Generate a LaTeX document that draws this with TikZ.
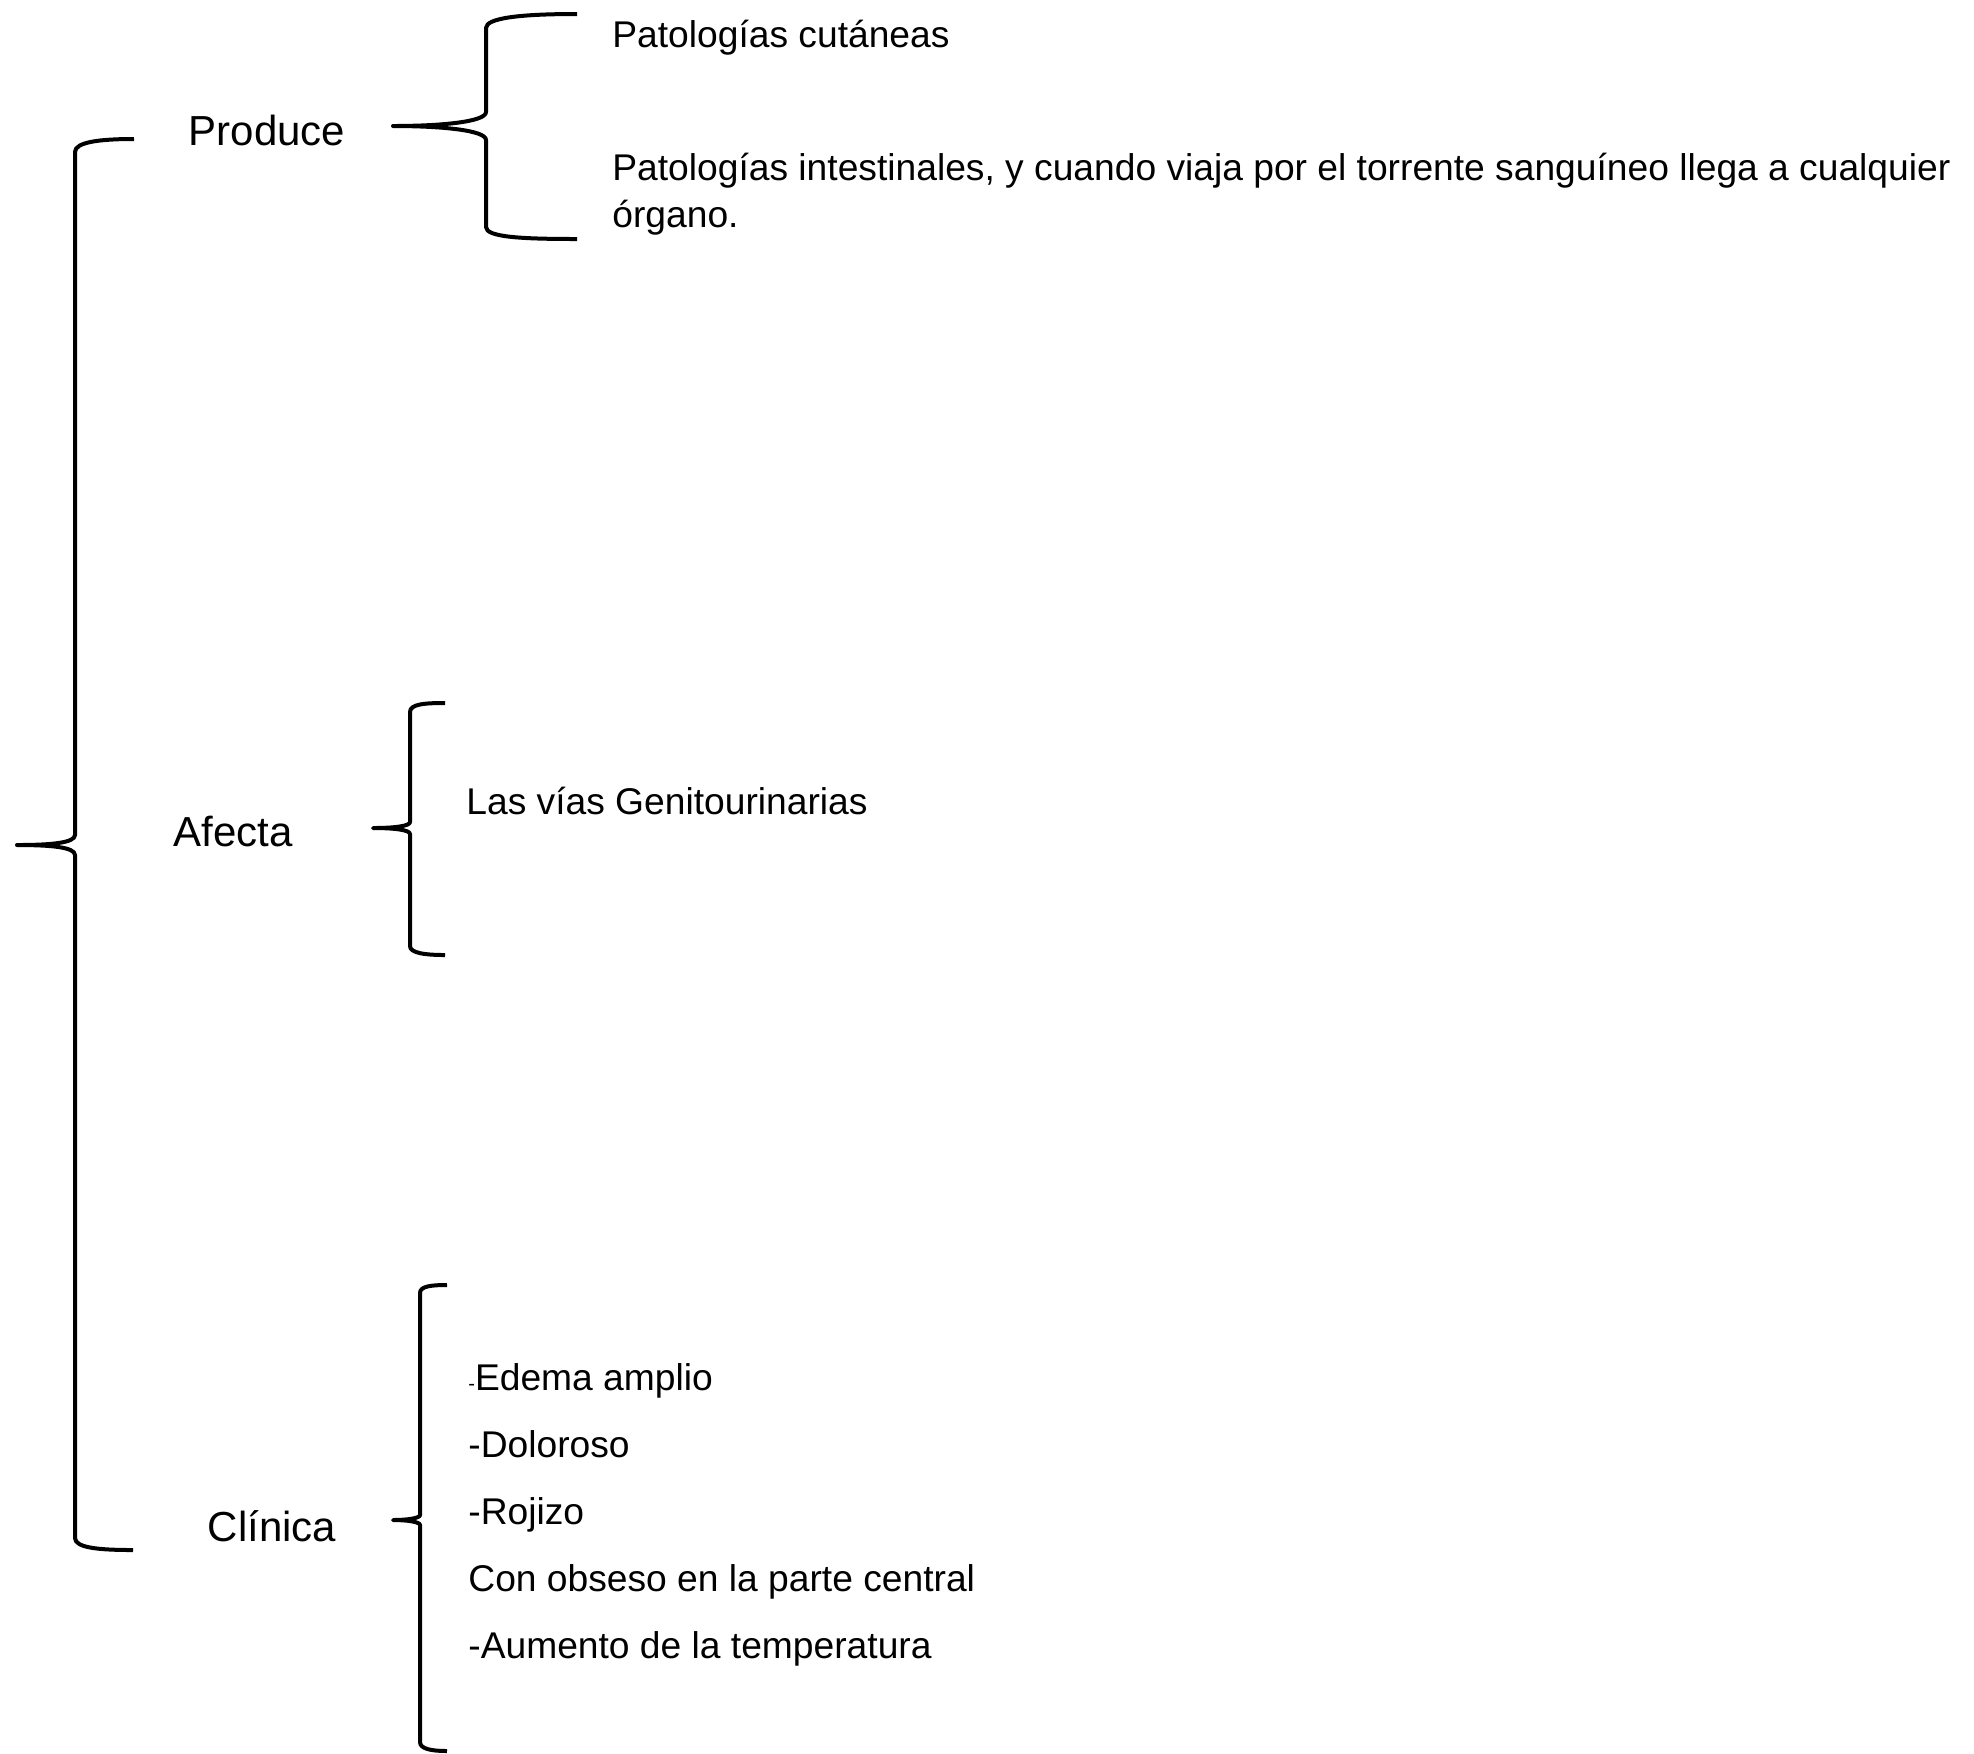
\documentclass[tikz,border=0pt]{standalone}
\usepackage{fontspec}
\setmainfont{Liberation Sans}

\begin{document}
\begin{tikzpicture}[x=0.5pt, y=-0.5pt]
  \tikzset{
    titulo/.style={inner sep=0pt,font=\fontsize{21}{25}\selectfont},
    item/.style={inner sep=0pt,anchor=base west,align=left,font=\fontsize{18.6}{23.5}\selectfont},
    llave/.style={draw=black,line width=2pt,line join=round}
  }
  \useasboundingbox (0,0) rectangle (1974,1753);
  % encabezados
  \node[titulo] (produce) at (267,130) {Produce};
  \node[titulo] (afecta) at (233,831) {Afecta};
  \node[titulo] (clinica) at (272,1526) {Clínica};
  % textos
  \node[item] (cutaneas) at (612,47) {Patologías cutáneas};
  \node[item,anchor=west] (intestinales) at (612,194) {Patologías intestinales, y cuando viaja por el torrente sanguíneo llega a cualquier\\órgano.};
  \node[item] (vias) at (466,814) {Las vías Genitourinarias};
  \node[item] (edema) at (468,1390) {{\fontsize{10}{12}\selectfont -}Edema amplio};
  \node[item] (doloroso) at (468,1457) {-Doloroso};
  \node[item] (rojizo) at (468,1524) {-Rojizo};
  \node[item] (obseso) at (468,1591) {Con obseso en la parte central};
  \node[item] (temperatura) at (468,1658) {-Aumento de la temperatura};
  % llaves
  \draw[llave] (134,139) .. controls (100,139) and (75,142) .. (75,152) -- (75,835)
    .. controls (75,843) and (50,845) .. (17,845)
    .. controls (50,845) and (75,847) .. (75,855) -- (75,1538)
    .. controls (75,1548) and (100,1550) .. (133,1550);
  \draw[llave] (577,14) .. controls (520,14) and (486,18) .. (486,28) -- (486,112)
    .. controls (486,122) and (440,126) .. (393,126)
    .. controls (440,126) and (486,130) .. (486,140) -- (486,227)
    .. controls (486,237) and (520,239) .. (577,239);
  \draw[llave] (445,703) .. controls (425,703) and (410,704) .. (410,712) -- (410,822)
    .. controls (410,826) and (395,828) .. (373,828)
    .. controls (395,828) and (410,830) .. (410,834) -- (410,946)
    .. controls (410,953) and (425,955) .. (445,955);
  \draw[llave] (447,1285) .. controls (432,1285) and (420,1286) .. (420,1293) -- (420,1515)
    .. controls (420,1518) and (408,1520) .. (393,1520)
    .. controls (408,1520) and (420,1522) .. (420,1525) -- (420,1742)
    .. controls (420,1749) and (432,1751) .. (447,1751);
\end{tikzpicture}
\end{document}
